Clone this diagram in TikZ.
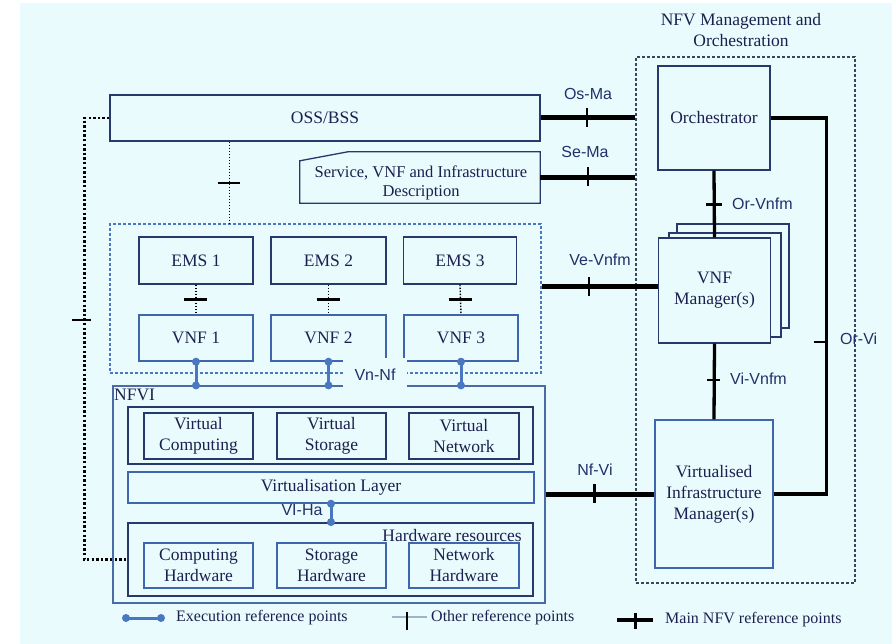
\documentclass[tikz,border=0pt]{standalone}
\usepackage{fontspec}
\setmainfont{Liberation Serif}
\setsansfont{Liberation Sans}
\usetikzlibrary{calc}
\definecolor{bg}{HTML}{EAFBFD}
\definecolor{ink}{HTML}{1C2050}
\definecolor{edge}{HTML}{26396A}
\definecolor{blueedge}{HTML}{3E66AE}
\definecolor{execc}{HTML}{4A78C0}
\definecolor{refink}{HTML}{22306A}
\definecolor{manoedge}{HTML}{3A4660}
\definecolor{otherleg}{HTML}{9FB3C8}

\begin{document}
\begin{tikzpicture}[x=1pt,y=-1pt,
  txt/.style={text=ink, font=\fontsize{17.5}{21}\selectfont, align=center},
  box/.style={draw=edge, line width=1.4pt, inner sep=0pt, txt},
  bbox/.style={box, draw=blueedge},
  reflabel/.style={text=refink, font=\sffamily\fontsize{16}{19}\selectfont, inner sep=0pt},
  legtext/.style={text=ink, font=\fontsize{16}{19}\selectfont, anchor=west, inner sep=0pt},
  mainline/.style={line width=5pt},
  midline/.style={line width=3.3pt},
  tickline/.style={line width=2.5pt},
  thindot/.style={line width=1.4pt, dash pattern=on 1.4pt off 1.6pt},
  heavydot/.style={line width=2.4pt, dash pattern=on 2.4pt off 2.2pt},
  execline/.style={draw=execc, line width=3pt},
  execdot/.style={fill=execc},
]
\useasboundingbox (0,0) rectangle (892,644);
\fill[white] (0,0) rectangle (892,644);
\fill[bg] (20,3) rectangle (892,644);

% ---------- management side ----------
\node[draw=manoedge, line width=1.1pt, dash pattern=on 3pt off 2pt,
      minimum width=219pt, minimum height=526pt, inner sep=0pt] (mano) at (745.5,320) {};
\node[txt] (manotitle) at (741,30.5) {NFV Management and\\Orchestration};

\node[box, minimum width=112pt, minimum height=104pt] (orch) at (714,118) {Orchestrator};

\node[box, fill=bg, minimum width=112pt, minimum height=104pt] (vnfmc) at (733,276) {};
\node[box, fill=bg, minimum width=112pt, minimum height=104pt] (vnfmb) at (725,285) {};
\node[box, fill=bg, minimum width=112pt, minimum height=105pt] (vnfm) at (714.5,290.5) {VNF\\Manager(s)};

\node[bbox, minimum width=118pt, minimum height=148pt] (vim) at (714,494) {Virtualised\\Infrastructure\\Manager(s)};

% ---------- OSS/BSS and descriptors ----------
\node[box, minimum width=430pt, minimum height=46pt] (oss) at (325,118) {OSS/BSS};

\node[minimum width=240pt, minimum height=51pt, inner sep=0pt] (desc) at (420,177.5) {};
\draw[draw=edge, line width=1.3pt] (desc.south west) -- (desc.south east) -- (desc.north east)
  -- ($(desc.north west)+(48,0)$) -- ($(desc.north west)+(0,9)$) -- cycle;
\node[txt, font=\fontsize{16.5}{19}\selectfont] (desctext) at (421,183) {Service, VNF and Infrastructure\\Description};

% ---------- VNF domain ----------
\node[draw=execc, line width=1.2pt, dash pattern=on 3pt off 2pt,
      minimum width=431pt, minimum height=149pt, inner sep=0pt] (vnfbox) at (325.5,298.5) {};

\node[box, minimum width=114pt, minimum height=47pt] (ems1) at (196,260.5) {EMS 1};
\node[box, minimum width=115pt, minimum height=47pt] (ems2) at (328.5,260.5) {EMS 2};
\node[box, minimum width=113pt, minimum height=47pt] (ems3) at (460,260.5) {EMS 3};

\node[bbox, minimum width=114pt, minimum height=46pt] (vnf1) at (196,338) {VNF 1};
\node[bbox, minimum width=115pt, minimum height=46pt] (vnf2) at (328.5,338) {VNF 2};
\node[bbox, minimum width=114pt, minimum height=46pt] (vnf3) at (461,338) {VNF 3};

% ---------- NFVI ----------
\node[draw=blueedge!80!gray, line width=1.2pt, minimum width=432pt, minimum height=217pt, inner sep=0pt] (nfvi) at (329,494.5) {};
\node[txt, anchor=west, inner sep=0pt] (nfvilabel) at (114,395) {NFVI};

\node[box, line width=1.8pt, minimum width=405pt, minimum height=57pt] (vres) at (330.5,435.5) {};
\node[box, minimum width=109pt, minimum height=46pt] (vc) at (198.5,436) {Virtual\\Computing};
\node[box, minimum width=109pt, minimum height=46pt] (vs) at (331.5,436) {Virtual\\Storage};
\node[box, minimum width=110pt, minimum height=46pt] (vn) at (464,436) {Virtual\\Network};

\node[bbox, minimum width=406pt, minimum height=31pt] (vlayer) at (331,487.5) {Virtualisation Layer};

\node[box, line width=1.8pt, minimum width=405pt, minimum height=73pt] (hw) at (330.5,559.5) {};
\node[txt, anchor=east, inner sep=0pt] (hwlabel) at (522,536) {Hardware resources};
\node[bbox, minimum width=109pt, minimum height=45pt] (ch) at (198.5,565.5) {Computing\\Hardware};
\node[bbox, minimum width=109pt, minimum height=45pt] (sh) at (331.5,565.5) {Storage\\Hardware};
\node[bbox, minimum width=110pt, minimum height=45pt] (nh) at (464,565.5) {Network\\Hardware};

% ---------- execution reference points ----------
\foreach \v in {vnf1,vnf2,vnf3}{
  \draw[execline] (\v.south) -- (\v.south |- nfvi.north);
  \fill[execdot] (\v.south) circle (4pt);
  \fill[execdot] (\v.south |- nfvi.north) circle (4pt);
}
\node[reflabel, fill=bg, minimum width=64pt, minimum height=33pt] (vnnf) at (375,375) {Vn-Nf};

\draw[execline] (vlayer.south) -- (vlayer.south |- hw.north);
\fill[execdot] (vlayer.south) circle (4pt);
\fill[execdot] (vlayer.south |- hw.north) circle (4pt);
\node[reflabel] (viha) at (302,510) {VI-Ha};

% ---------- other reference points ----------
\foreach \e/\v in {ems1/vnf1,ems2/vnf2,ems3/vnf3}{
  \draw[thindot] (\e.south) -- (\v.north);
  \draw[tickline] ($(\e.south)!0.5!(\v.north)$) +(-12,0) -- +(11,0);
}

\path (oss.south west) ++(120,0) coordinate (ossdown);
\draw[thindot] (ossdown) -- (ossdown |- vnfbox.north);
\draw[tickline] (ossdown |- 0,183) +(-11,0) -- +(11,0);

\draw[heavydot] (oss.west) -- ++(-25,0) coordinate (ossleft) |- (hw.west);
\draw[tickline] (ossleft |- 0,320) +(-12,0) -- +(7,0);

% ---------- main NFV reference points ----------
\draw[mainline] (oss.east) -- coordinate[pos=0.49] (tosma) (oss.east -| mano.west);
\draw[tickline] (tosma) +(0,-10) -- +(0,9);
\node[reflabel] (osma) at (588,93.5) {Os-Ma};

\draw[mainline] (desc.east) -- coordinate[pos=0.5] (tsema) (desc.east -| mano.west);
\draw[tickline] (tsema) +(0,-10) -- +(0,9);
\node[reflabel] (sema) at (585,152) {Se-Ma};

\coordinate (vev) at ($(vnfm.west)+(0,-3.5)$);
\draw[mainline] (vnfbox.east |- vev) -- coordinate[pos=0.41] (tvev) (vev);
\draw[tickline] (tvev) +(0,-10) -- +(0,9);
\node[reflabel] (vevnfm) at (600,260) {Ve-Vnfm};

\draw[mainline] (nfvi.east |- vim.west) -- coordinate[pos=0.45] (tnfvi) (vim.west);
\draw[tickline] (tnfvi) +(0,-10) -- +(0,9);
\node[reflabel] (nfvilab) at (595,470) {Nf-Vi};

\draw[midline] (orch.south) -- coordinate[pos=0.51] (torv) (vnfm.north);
\draw[tickline] (torv) +(-8,0) -- +(8,0);
\node[reflabel, anchor=west] (orvnfm) at (732,203.5) {Or-Vnfm};

\draw[midline] (vnfm.south) -- coordinate[pos=0.48] (tviv) (vim.north);
\draw[tickline] (tviv) +(-7,0) -- +(6,0);
\node[reflabel, anchor=west] (vivnfm) at (730,379) {Vi-Vnfm};

\draw[midline] (orch.east) -- ++(56,0) coordinate (orvicorner) |- (vim.east);
\draw[tickline] (orvicorner |- 0,342) +(-13,0) -- +(1.5,0);
\node[reflabel, anchor=west] (orvi) at (840,339) {Or-Vi};

% ---------- legend ----------
\coordinate (lex1) at (126,618);
\coordinate (lex2) at (161,618);
\draw[execline] (lex1) -- (lex2);
\fill[execdot] (lex1) circle (4pt);
\fill[execdot] (lex2) circle (4pt);
\node[legtext] (legexec) at (176,618) {Execution reference points};

\coordinate (lot1) at (392,617);
\coordinate (lot2) at (427,617);
\draw[otherleg, line width=1.3pt] (lot1) -- (lot2);
\draw[line width=2pt] ($(lot1)!0.43!(lot2)$) +(0,-5) -- +(0,13);
\node[legtext] (legother) at (431,618) {Other reference points};

\coordinate (lma1) at (617,620);
\coordinate (lma2) at (653,620);
\draw[line width=3.5pt] (lma1) -- (lma2);
\draw[line width=3pt] ($(lma1)!0.5!(lma2)$) +(0,-7) -- +(0,9);
\node[legtext] (legmain) at (665,620) {Main NFV reference points};
\end{tikzpicture}
\end{document}
